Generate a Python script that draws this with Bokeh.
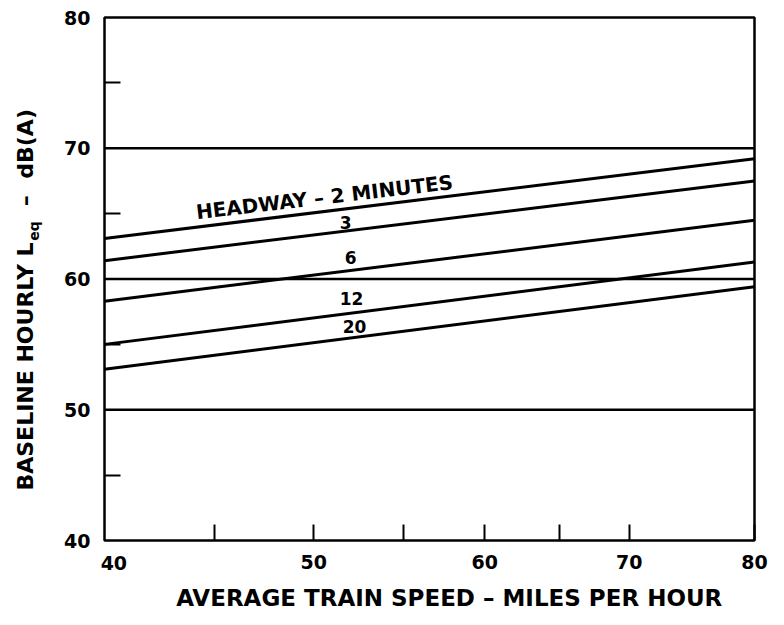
import math
from bokeh.plotting import figure
from bokeh.models import FixedTicker, Label, BasicTickFormatter, BoxAnnotation, Range1d
from bokeh.embed import file_html
from bokeh.resources import INLINE

# ---- data ----
speed = [40, 80]                      # average train speed (mph), line end points
leq_2 = [63.1, 69.2]                  # headway 2 minutes
leq_3 = [61.4, 67.5]                  # headway 3 minutes
leq_6 = [58.3, 64.5]                  # headway 6 minutes
leq_12 = [55.0, 61.3]                 # headway 12 minutes
leq_20 = [53.1, 59.4]                 # headway 20 minutes
series = [leq_2, leq_3, leq_6, leq_12, leq_20]
series_labels = ["HEADWAY \u2013 2 MINUTES", "3", "6", "12", "20"]

x_limits = [40, 80]
y_limits = [40, 80]
x_tick_values = [50, 60, 70, 80]
x_minor_values = [45, 55, 65]
y_tick_values = [40, 50, 60, 70, 80]
y_minor_values = [45, 55, 65, 75]
ref_levels = [50, 60, 70]

x_title = "AVERAGE TRAIN SPEED \u2013 MILES PER HOUR"

FONT = "DejaVu Sans"

# ---- layout (canvas pixels) ----
W, H = 768, 609
FL, FR, FT, FB = 104, 754, 17, 540      # plot box edges on the canvas


def px_to_x(px):
    return x_limits[0] * (x_limits[1] / x_limits[0]) ** ((px - FL) / (FR - FL))


def py_to_y(py):
    return y_limits[1] - (py - FT) * (y_limits[1] - y_limits[0]) / (FB - FT)


def rx(px_ref):  # reference image x -> canvas x
    return FL + (px_ref - 108) * (FR - FL) / 659


def ry(py_ref):  # reference image y -> canvas y
    return FT + (py_ref - 21.7) * (FB - FT) / 523.3


p = figure(width=W, height=H, x_axis_type="log",
           x_range=Range1d(px_to_x(0), px_to_x(W)),
           y_range=Range1d(py_to_y(H), py_to_y(0)),
           output_backend="svg", toolbar_location=None,
           min_border=0, min_border_left=0, min_border_right=0,
           min_border_top=0, min_border_bottom=0)

p.background_fill_color = "white"
p.border_fill_color = "white"
p.outline_line_color = None
p.xgrid.visible = False
p.ygrid.visible = False

# plot box
p.add_layout(BoxAnnotation(left=x_limits[0], right=x_limits[1], bottom=y_limits[0], top=y_limits[1],
                           fill_alpha=0, fill_color=None, line_color="black", line_width=2.5,
                           line_alpha=1.0))

# horizontal reference lines at 50, 60, 70
p.segment(x0=[x_limits[0]] * len(ref_levels), x1=[x_limits[1]] * len(ref_levels),
          y0=ref_levels, y1=ref_levels, line_color="black", line_width=2.5)

# x axis
xa = p.xaxis[0]
xa.fixed_location = y_limits[0]
xa.bounds = tuple(x_limits)
xa.ticker = FixedTicker(ticks=x_tick_values, minor_ticks=x_minor_values)
xa.formatter = BasicTickFormatter()
xa.axis_line_color = None
xa.major_tick_in = 16
xa.major_tick_out = 0
xa.minor_tick_in = 16
xa.minor_tick_out = 0
xa.major_tick_line_color = "black"
xa.minor_tick_line_color = "black"
xa.major_tick_line_width = 2
xa.minor_tick_line_width = 2
xa.major_label_text_font = FONT
xa.major_label_text_font_style = "bold"
xa.major_label_text_font_size = "19px"
xa.major_label_text_color = "black"
xa.major_label_standoff = 14

# y axis
ya = p.yaxis[0]
ya.fixed_location = x_limits[0]
ya.bounds = tuple(y_limits)
ya.ticker = FixedTicker(ticks=y_tick_values, minor_ticks=y_minor_values)
ya.axis_line_color = None
ya.major_tick_in = 0
ya.major_tick_out = 0
ya.minor_tick_in = 16
ya.minor_tick_out = 0
ya.minor_tick_line_color = "black"
ya.minor_tick_line_width = 2
ya.major_label_text_font = FONT
ya.major_label_text_font_style = "bold"
ya.major_label_text_font_size = "19px"
ya.major_label_text_color = "black"
ya.major_label_standoff = 14

# headway lines
for s in series:
    p.line(speed, s, line_color="black", line_width=3)

# line labels (positions, in its pixels)
lab_kw = dict(text_font=FONT, text_font_style="bold", text_color="black",
              text_align="center", text_baseline="middle")
label_pos = [(331, 201.5, 0.117, "20px"), (352.5, 226.5, 0, "17px"), (357.5, 261.5, 0, "17px"),
             (358.5, 302.5, 0, "17px"), (361.5, 330.5, 0, "17px")]
for txt, (lx, ly, ang, fs) in zip(series_labels, label_pos):
    p.add_layout(Label(x=px_to_x(rx(lx)), y=py_to_y(ry(ly)), text=txt, angle=ang,
                       text_font_size=fs, **lab_kw))

# x tick label "40" (shifted right as in the original)
p.add_layout(Label(x=px_to_x(rx(117.5)), y=py_to_y(ry(567.5)), text="40",
                   text_font_size="19px", **lab_kw))

# x axis title
p.add_layout(Label(x=px_to_x(rx(457.5)), y=py_to_y(597), text=x_title,
                   text_font_size="23px", **lab_kw))

# y axis title (rotated, with subscript)
yt_kw = dict(text_font=FONT, text_font_style="bold", text_color="black",
             text_baseline="middle", angle=math.pi / 2)
p.add_layout(Label(x=px_to_x(rx(28)), y=py_to_y(ry(495)), text="BASELINE HOURLY L",
                   text_align="left", text_font_size="22px", **yt_kw))
p.add_layout(Label(x=px_to_x(rx(37)), y=py_to_y(ry(245)), text="eq",
                   text_align="left", text_font_size="14px", **yt_kw))
p.add_layout(Label(x=px_to_x(rx(28)), y=py_to_y(ry(205)), text="\u2013",
                   text_align="center", text_font_size="22px", **yt_kw))
p.add_layout(Label(x=px_to_x(rx(28)), y=py_to_y(ry(183)), text="dB(A)",
                   text_align="left", text_font_size="22px", **yt_kw))

open("out.html", "w").write(file_html(p, INLINE))
